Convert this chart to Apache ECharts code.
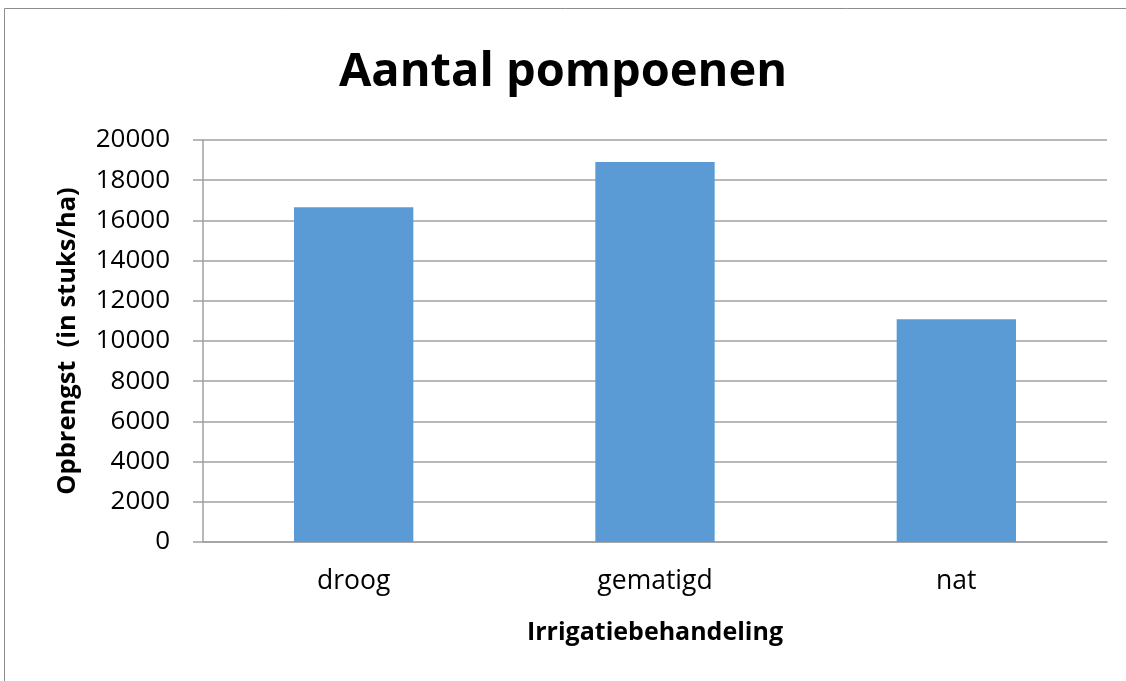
<!DOCTYPE html>
<html>
<head>
<meta charset="utf-8">
<script src="https://cdn.jsdelivr.net/npm/echarts@6/dist/echarts.min.js"></script>
<style>
html, body { margin: 0; padding: 0; background: #fff; }
#chart { width: 1126px; height: 681px; }
</style>
</head>
<body>
<div id="chart"></div>
<script>
var categories = ['droog', 'gematigd', 'nat'];
var yieldValues = [16650, 18900, 11080];
var yTicks = [0, 20000, 2000]; // min, max, step

var myChart = echarts.init(document.getElementById('chart'));
var gridColor = '#a0a0a0';
var option = {
    backgroundColor: '#ffffff',
    animation: false,
    graphic: [{
        type: 'rect',
        shape: { x: 4.5, y: 8.5, width: 1140, height: 700 },
        style: { fill: 'none', stroke: '#8c8c8c', lineWidth: 1 }
    }],
    title: {
        text: 'Aantal pompoenen',
        left: 'center',
        top: 44,
        textStyle: {
            fontFamily: 'Open Sans',
            fontWeight: 'bold',
            fontSize: 47,
            color: '#000'
        }
    },
    grid: {
        left: 203,
        right: 19,
        top: 140,
        bottom: 139
    },
    xAxis: {
        type: 'category',
        data: categories,
        name: 'Irrigatiebehandeling',
        nameLocation: 'middle',
        nameGap: 78,
        nameTextStyle: {
            fontFamily: 'Open Sans',
            fontWeight: 'bold',
            fontSize: 25,
            color: '#000'
        },
        axisLine: { lineStyle: { color: gridColor, width: 1.5 } },
        axisTick: { length: 10, lineStyle: { color: gridColor, width: 1.5 } },
        axisLabel: {
            margin: 26,
            fontFamily: 'Open Sans',
            fontSize: 26.5,
            color: '#000'
        }
    },
    yAxis: {
        type: 'value',
        min: yTicks[0],
        max: yTicks[1],
        interval: yTicks[2],
        name: 'Opbrengst  (in stuks/ha)',
        nameLocation: 'middle',
        nameGap: 122,
        nameTextStyle: {
            fontFamily: 'Open Sans',
            fontWeight: 'bold',
            fontSize: 25.5,
            color: '#000'
        },
        axisLine: { show: true, lineStyle: { color: gridColor, width: 1.5 } },
        axisTick: { show: true, length: 10, lineStyle: { color: gridColor, width: 1.5 } },
        axisLabel: {
            margin: 33,
            fontFamily: 'Open Sans',
            fontSize: 26,
            color: '#000',
            formatter: function (v) { return String(v); }
        },
        splitLine: { show: true, lineStyle: { color: gridColor, width: 1.5 } }
    },
    series: [{
        type: 'bar',
        data: yieldValues,
        barWidth: '39.6%',
        itemStyle: { color: '#5b9bd5' }
    }]
};
myChart.setOption(option);
</script>
</body>
</html>
